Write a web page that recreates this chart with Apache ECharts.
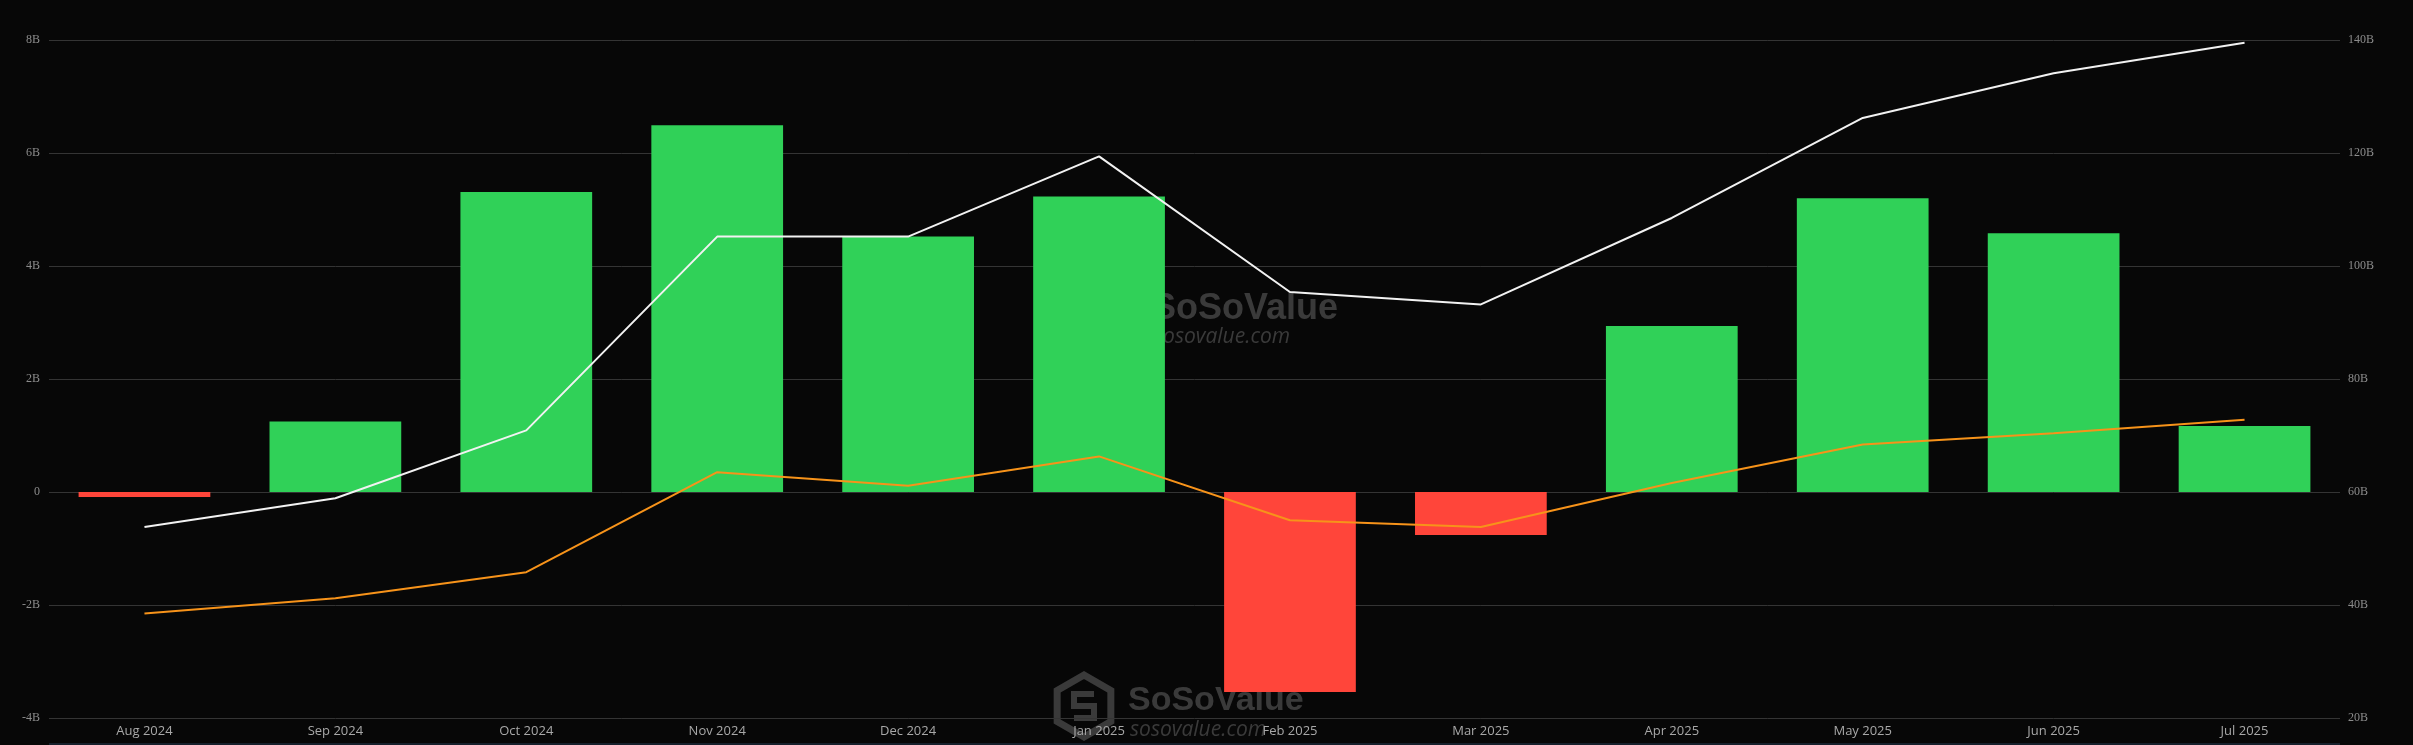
<!DOCTYPE html>
<html>
<head>
<meta charset="utf-8">
<script src="https://cdn.jsdelivr.net/npm/echarts@6/dist/echarts.min.js"></script>
<style>
html,body{margin:0;padding:0;background:#070707;}
#chart{width:2413px;height:745px;}
</style>
</head>
<body>
<div id="chart"></div>
<script>
// Data (values in billions USD)
const categories = ['Aug 2024','Sep 2024','Oct 2024','Nov 2024','Dec 2024','Jan 2025','Feb 2025','Mar 2025','Apr 2025','May 2025','Jun 2025','Jul 2025'];
const netInflow = [-0.09, 1.25, 5.31, 6.49, 4.52, 5.23, -3.54, -0.76, 2.94, 5.20, 4.58, 1.17];
const totalNetAssets = [53.8, 58.9, 70.9, 105.2, 105.2, 119.4, 95.4, 93.2, 108.5, 126.2, 134.1, 139.5];
const cumulativeInflow = [38.5, 41.2, 45.8, 63.5, 61.1, 66.3, 55.0, 53.8, 61.6, 68.4, 70.4, 72.8];
const leftTicks = {min: -4, max: 8, interval: 2};
const rightTicks = {min: 20, max: 140, interval: 20};

const chart = echarts.init(document.getElementById('chart'));
const wmColor = 'rgba(110,110,110,0.5)';
function logo(cx, cy, r) {
  const pts = [];
  for (let i = 0; i < 6; i++) {
    const a = -Math.PI / 2 + i * Math.PI / 3;
    pts.push([cx + r * Math.cos(a), cy + r * Math.sin(a)]);
  }
  return [
    {type: 'polygon', z: 0, silent: true, shape: {points: pts}, style: {fill: 'none', stroke: wmColor, lineWidth: 7}},
    {type: 'polyline', z: 0, silent: true, shape: {points: [[cx+10, cy-12],[cx-10, cy-12],[cx-10, cy],[cx+10, cy],[cx+10, cy+12],[cx-10, cy+12]]}, style: {fill: 'none', stroke: wmColor, lineWidth: 6}}
  ];
}
function watermark(x, y, size) {
  return [
    ...logo(x - 44, y + 16, 31),
    {type: 'text', z: 0, silent: true, left: x, top: y - 6, style: {text: 'SoSoValue', font: 'bold ' + size + 'px "Liberation Sans", Arial, sans-serif', fill: wmColor}},
    {type: 'text', z: 0, silent: true, left: x + 2, top: y + 30, style: {text: 'sosovalue.com', font: 'italic 21px "Open Sans", sans-serif', fill: wmColor}}
  ];
}

const option = {
  backgroundColor: '#070707',
  animation: false,
  grid: {left: 49, right: 73, top: 40, bottom: 27, containLabel: false},
  graphic: [
    ...watermark(1152, 297, 36),
    ...watermark(1128, 690, 34),
    {type: 'rect', z: 0, silent: true, shape: {x: 49, y: 743, width: 2291, height: 2}, style: {fill: '#16202c'}}
  ],
  xAxis: {
    type: 'category',
    data: categories,
    axisLine: {show: false},
    axisTick: {show: false},
    axisLabel: {color: '#a8a8a8', fontSize: 13, fontFamily: '"Open Sans", sans-serif', margin: 7},
    splitLine: {show: false}
  },
  yAxis: [
    {
      type: 'value', position: 'left',
      min: leftTicks.min, max: leftTicks.max, interval: leftTicks.interval,
      axisLine: {show: false}, axisTick: {show: false},
      axisLabel: {color: '#8c8c8c', fontSize: 12, fontFamily: '"Liberation Serif", serif', margin: 9,
        formatter: v => v === 0 ? '0' : v + 'B'},
      splitLine: {show: true, lineStyle: {color: '#343434', width: 1}}
    },
    {
      type: 'value', position: 'right',
      min: rightTicks.min, max: rightTicks.max, interval: rightTicks.interval,
      axisLine: {show: false}, axisTick: {show: false},
      axisLabel: {color: '#8c8c8c', fontSize: 12, fontFamily: '"Liberation Serif", serif', margin: 8,
        formatter: v => v + 'B'},
      splitLine: {show: false}
    }
  ],
  series: [
    {
      name: 'Net Inflow', type: 'bar', yAxisIndex: 0, z: 2,
      data: netInflow,
      barWidth: '69%',
      itemStyle: {color: p => p.value >= 0 ? '#30d158' : '#ff453a'}
    },
    {
      name: 'Total Net Assets', type: 'line', yAxisIndex: 1, z: 3,
      data: totalNetAssets, showSymbol: false, symbol: 'none',
      lineStyle: {color: '#f2f2f2', width: 2}
    },
    {
      name: 'Cumulative Net Inflow', type: 'line', yAxisIndex: 1, z: 3,
      data: cumulativeInflow, showSymbol: false, symbol: 'none',
      lineStyle: {color: '#f7931a', width: 2}
    }
  ]
};
chart.setOption(option);
</script>
</body>
</html>
